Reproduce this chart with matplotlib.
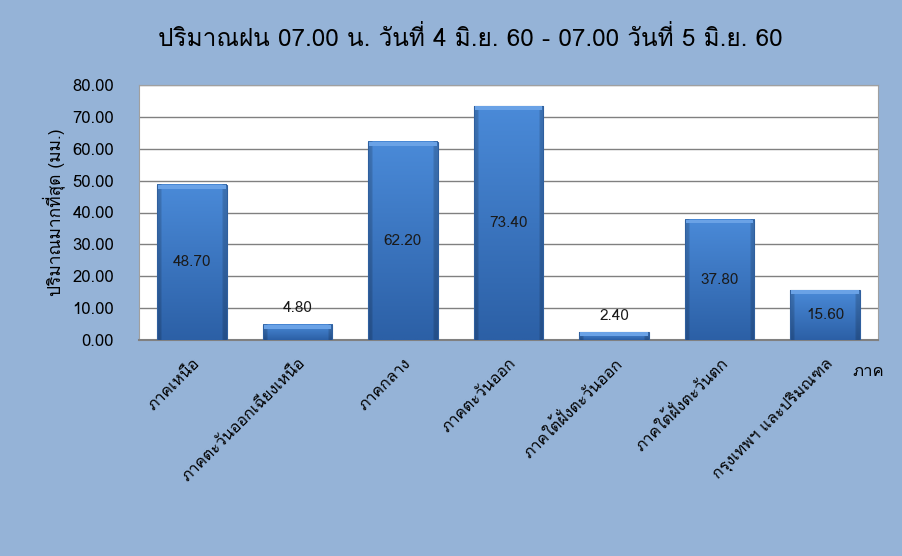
import matplotlib
matplotlib.use('Agg')
import matplotlib.pyplot as plt
from matplotlib import font_manager
from matplotlib.ft2font import FT2Font
import numpy as np

regions = ['ภาคเหนือ', 'ภาคตะวันออกเฉียงเหนือ', 'ภาคกลาง', 'ภาคตะวันออก',
           'ภาคใต้ฝั่งตะวันออก', 'ภาคใต้ฝั่งตะวันตก', 'กรุงเทพฯ และปริมณฑล']
rain_max = [48.70, 4.80, 62.20, 73.40, 2.40, 37.80, 15.60]
label_inside = [True, False, True, True, False, True, True]
y_ticks = [0, 10, 20, 30, 40, 50, 60, 70, 80]

title = 'ปริมาณฝน 07.00 น. วันที่ 4 มิ.ย. 60 - 07.00 วันที่ 5 มิ.ย. 60'
y_title = 'ปริมาณมากที่สุด (มม.)'
x_title = 'ภาค'


# look for any installed font that can draw Thai
def find_thai_font():
    for f in font_manager.fontManager.ttflist:
        try:
            ft = FT2Font(f.fname)
            if ft.get_char_index(ord('ก')) != 0:
                return f.name
        except Exception:
            pass
    return None


thai = find_thai_font()
families = ([thai] if thai else []) + ['DejaVu Sans']
plt.rcParams['font.family'] = families

bg = '#95b3d7'
fig = plt.figure(figsize=(9.03, 5.56), dpi=100, facecolor=bg)
ax = fig.add_axes([139 / 903, 1 - 340 / 556, (878 - 139) / 903, (340 - 85) / 556])
ax.set_facecolor('white')

x = np.arange(len(regions))
width = 0.66
bars = ax.bar(x, rain_max, width=width, color='none', edgecolor='#2f5f9e',
              linewidth=0.8, zorder=4)

# gradient fill: lighter at top, darker at bottom and at the sides
top_c = np.array([0x4a, 0x8a, 0xd8]) / 255
bot_c = np.array([0x2c, 0x60, 0xa6]) / 255
t = np.linspace(0, 1, 64)[:, None, None]
grad = bot_c * (1 - t) + top_c * t
side = np.ones((1, 32, 1))
side[0, :2] = 0.82
side[0, -2:] = 0.82
grad = np.clip(grad * side, 0, 1)
for b in bars:
    x0, w, h = b.get_x(), b.get_width(), b.get_height()
    ax.imshow(grad, extent=[x0, x0 + w, 0, h], origin='lower',
              aspect='auto', zorder=3, interpolation='bilinear')
# lighter bevel at the top of each bar
ax.bar(x, [1.2] * len(x), bottom=np.array(rain_max) - 1.2, width=width * 0.97,
       color='#6aa2e6', linewidth=0, zorder=4)

for xi, v, inside in zip(x, rain_max, label_inside):
    if inside:
        ax.text(xi, v / 2, '%.2f' % v, ha='center', va='center', fontsize=11,
                color='#1a1a1a', zorder=5)
    else:
        ax.text(xi, v + 3, '%.2f' % v, ha='center', va='bottom', fontsize=11,
                color='#1a1a1a', zorder=5)

ax.set_ylim(0, 80)
ax.set_xlim(-0.5, len(regions) - 0.5)
ax.set_yticks(y_ticks)
ax.set_yticklabels(['%.2f' % t for t in y_ticks], fontsize=12)
ax.yaxis.grid(True, color='#808080', linewidth=1, zorder=0)
ax.tick_params(axis='y', length=0, pad=18)
ax.tick_params(axis='x', length=0, pad=11)
ax.set_xticks(x)
ax.set_xticklabels(regions, rotation=45, ha='right', rotation_mode='anchor',
                   fontsize=11.5)
for s in ['left', 'top', 'right']:
    ax.spines[s].set_color('#a0a0a0')
ax.spines['bottom'].set_color('#808080')
ax.spines['bottom'].set_linewidth(1.5)

ax.set_ylabel(y_title, fontsize=12.5, labelpad=5)
fig.text(868 / 903, 1 - 372 / 556, x_title, ha='center', va='center', fontsize=12)
fig.text(470 / 903, 1 - 38 / 556, title, ha='center', va='center', fontsize=17.5)

fig.savefig('out.png', dpi=100, facecolor=bg)
